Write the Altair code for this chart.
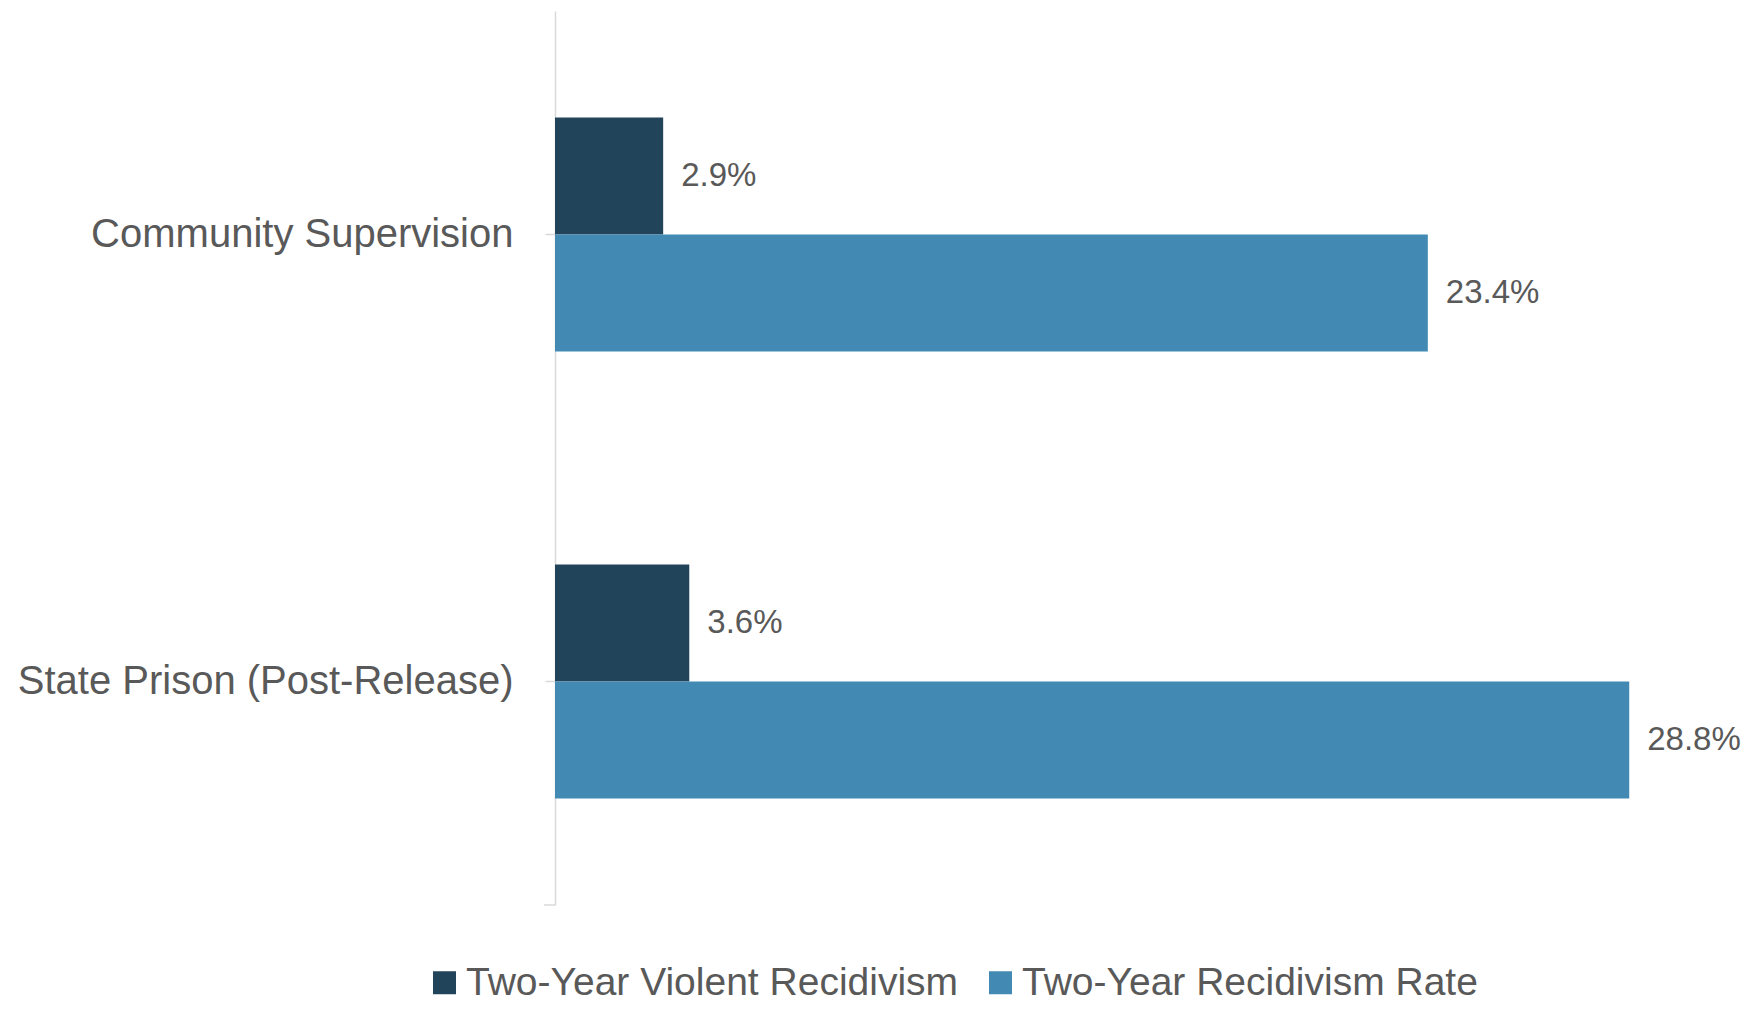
import altair as alt
import pandas as pd

categories = ["Community Supervision", "State Prison (Post-Release)"]
series = ["Two-Year Violent Recidivism", "Two-Year Recidivism Rate"]
violent = [2.9, 3.6]
rate = [23.4, 28.8]
colors = ["#22445B", "#4289B4"]

rows = []
for i, c in enumerate(categories):
    rows.append({"category": c, "series": series[0], "value": violent[i]})
    rows.append({"category": c, "series": series[1], "value": rate[i]})
df = pd.DataFrame(rows)
df["label"] = df["value"].map(lambda v: f"{v:.1f}%")

FONT = "Liberation Sans, Arial, sans-serif"
TXT = "#595959"
AX = "#D9D9D9"

y_enc = alt.Y(
    "category:N",
    sort=categories,
    scale=alt.Scale(paddingInner=0.476, paddingOuter=0.238),
    axis=alt.Axis(
        title=None,
        labelFont=FONT,
        labelFontSize=40,
        labelColor=TXT,
        labelPadding=32,
        labelLimit=0,
        tickSize=10,
        tickColor=AX,
        domainColor=AX,
        tickWidth=1.5,
        domainWidth=1.5,
    ),
)
yoff = alt.YOffset("series:N", sort=series, scale=alt.Scale(paddingInner=0, paddingOuter=0))
x_enc = alt.X("value:Q", scale=alt.Scale(domain=[0, 30]), axis=None)

base = alt.Chart(df).encode(y=y_enc, yOffset=yoff, x=x_enc)

bars = base.mark_bar().encode(
    color=alt.Color(
        "series:N",
        sort=series,
        scale=alt.Scale(domain=series, range=colors),
        legend=alt.Legend(
            title=None,
            orient="none",
            direction="horizontal",
            legendX=-130,
            legendY=952,
            symbolType="square",
            symbolSize=529,
            symbolStrokeWidth=0,
            labelFont=FONT,
            labelFontSize=39,
            labelColor=TXT,
            labelOffset=2,
            columnPadding=22,
            labelLimit=0,
        ),
    )
)

labels = base.mark_text(
    align="left", baseline="middle", dx=18, font=FONT, fontSize=33, color=TXT
).encode(text="label:N")

bottom_tick = alt.Chart(pd.DataFrame({"v": [0]})).mark_rule(color=AX, strokeWidth=1.5).encode(
    x=alt.value(-11), x2=alt.value(0), y=alt.value(894)
)

chart = (
    alt.layer(bars, labels, bottom_tick)
    .properties(
        width=1119,
        height=894,
        autosize=alt.AutoSizeParams(type="none"),
        padding={"left": 547, "top": 3, "right": 70, "bottom": 99},
    )
    .configure_view(stroke=None)
)

chart.save("out.html", embed_options={"renderer": "svg", "actions": False})
